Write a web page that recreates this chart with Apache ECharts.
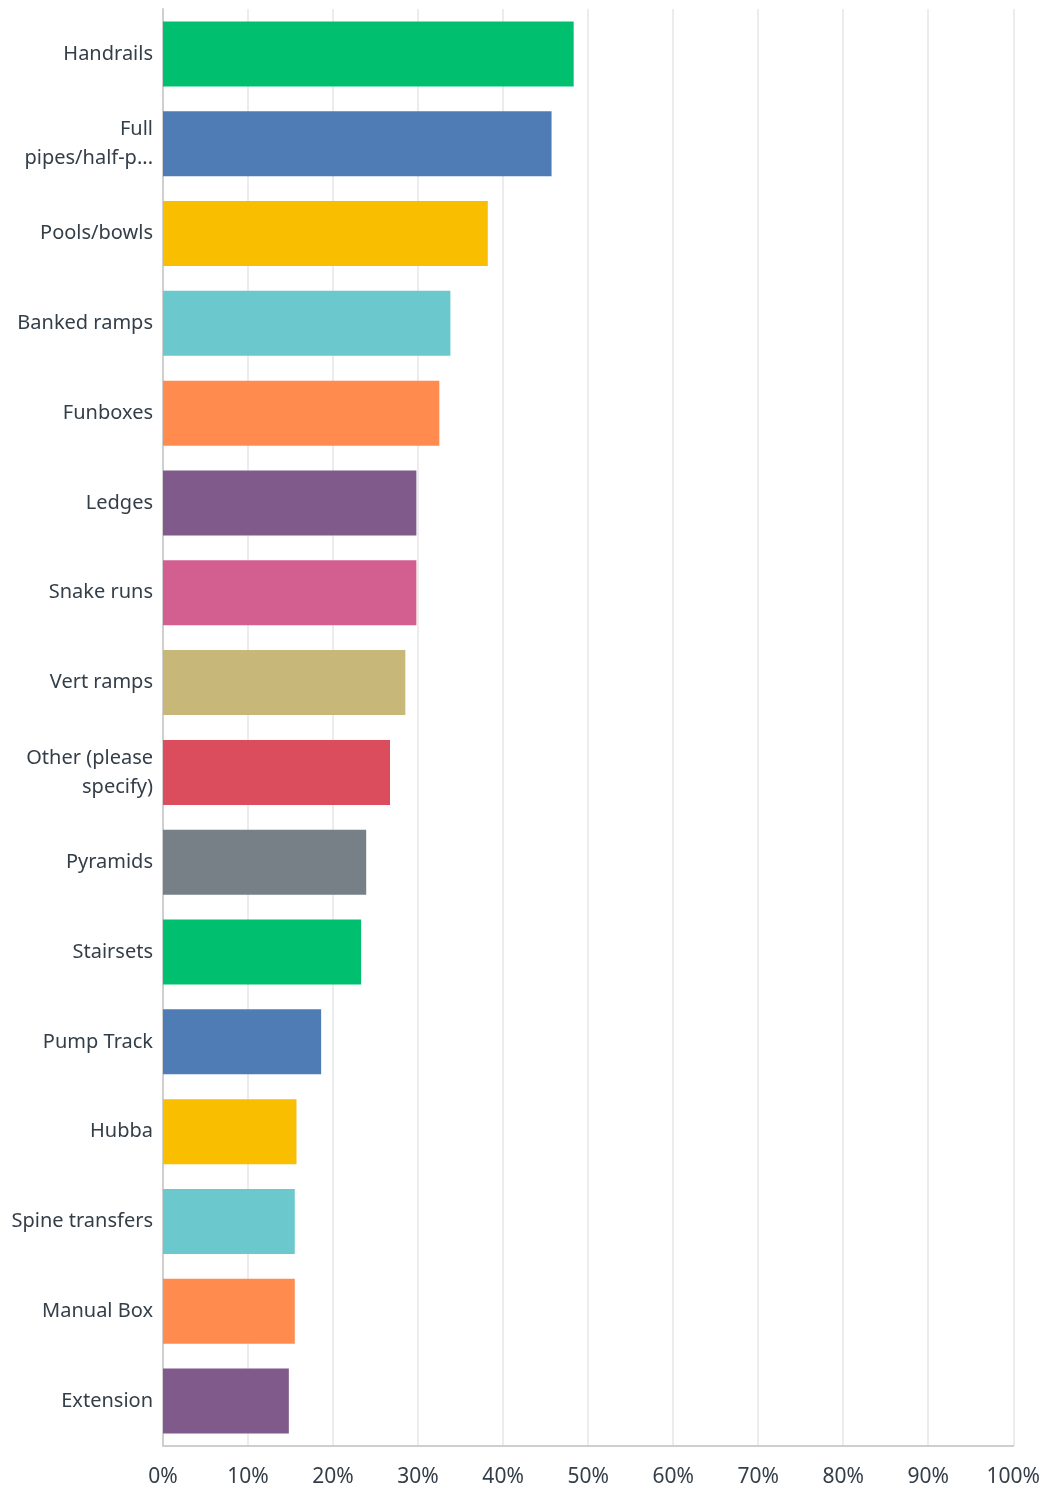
<!DOCTYPE html>
<html>
<head>
<meta charset="utf-8">
<script src="https://cdn.jsdelivr.net/npm/echarts@6/dist/echarts.min.js"></script>
<style>
html,body{margin:0;padding:0;background:#fff;}
#chart{width:1043px;height:1491px;}
</style>
</head>
<body>
<div id="chart"></div>
<script>
const categories = [
  "Handrails",
  "Full\npipes/half-p...",
  "Pools/bowls",
  "Banked ramps",
  "Funboxes",
  "Ledges",
  "Snake runs",
  "Vert ramps",
  "Other (please\nspecify)",
  "Pyramids",
  "Stairsets",
  "Pump Track",
  "Hubba",
  "Spine transfers",
  "Manual Box",
  "Extension"
];
const values = [48.3, 45.7, 38.2, 33.8, 32.5, 29.8, 29.8, 28.5, 26.7, 23.9, 23.3, 18.6, 15.7, 15.5, 15.5, 14.8];
const tickLabels = ["0%","10%","20%","30%","40%","50%","60%","70%","80%","90%","100%"];
const palette = ["#00BF6F","#507CB6","#F9BE00","#6BC8CD","#FF8B4F","#7F5A8B","#D25F90","#C7B879","#DB4D5C","#768086"];

const chart = echarts.init(document.getElementById('chart'), null, {renderer:'canvas'});
chart.setOption({
  animation: false,
  color: palette,
  grid: {left: 163, right: 27, top: 9, bottom: 45, containLabel: false},
  xAxis: {
    type: 'value', min: 0, max: 100, interval: 10,
    axisLine: {show: true, lineStyle: {color: '#cfcfcf', width: 2}},
    axisTick: {show: false},
    splitLine: {show: true, lineStyle: {color: '#ececec', width: 2}},
    axisLabel: {
      margin: 21,
      color: '#333e48', fontSize: 21, fontFamily: 'Noto Sans',
      formatter: function(v){ return tickLabels[Math.round(v/10)]; }
    }
  },
  yAxis: {
    type: 'category', data: categories, inverse: true,
    axisLine: {show: true, lineStyle: {color: '#cfcfcf', width: 2}},
    axisTick: {show: false},
    splitLine: {show: false},
    axisLabel: {
      margin: 10,
      color: '#333e48', fontSize: 20, fontFamily: 'Noto Sans', lineHeight: 29, align: 'right',
      padding: [8, 0, 0, 0]
    }
  },
  series: [{
    type: 'bar',
    data: values,
    colorBy: 'data',
    barWidth: 65,
    itemStyle: {borderWidth: 0}
  }]
});
</script>
</body>
</html>
